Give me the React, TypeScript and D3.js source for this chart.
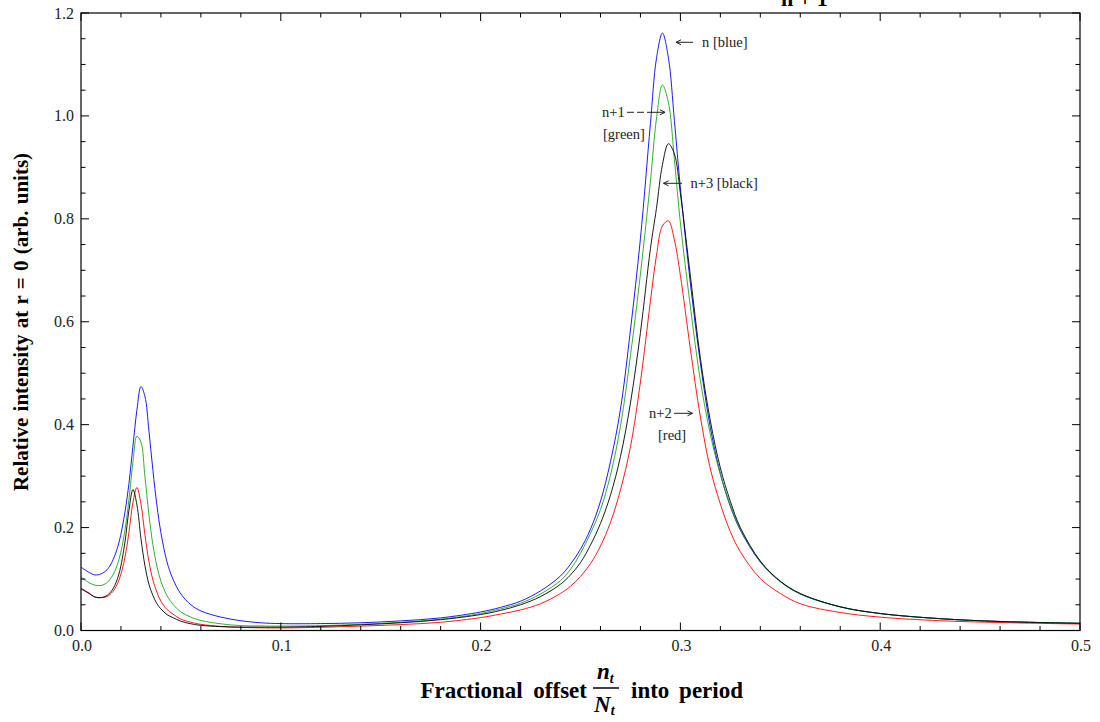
import React from 'react';
import * as d3 from 'd3';

// fractional offset n_t / N_t (shared x grid for all four curves)
const offsets = [
  0, 0.004, 0.007, 0.010, 0.013, 0.016, 0.019, 0.022, 0.024, 0.026, 0.028, 0.030,
  0.032, 0.034, 0.036, 0.038, 0.040, 0.043, 0.046, 0.050, 0.055, 0.060, 0.070, 0.080,
  0.090, 0.10, 0.12, 0.14, 0.16, 0.18, 0.20, 0.21, 0.22, 0.23, 0.24, 0.245, 0.25, 0.255,
  0.26, 0.265, 0.27, 0.275, 0.28, 0.285, 0.288, 0.291, 0.294, 0.297, 0.30, 0.305,
  0.31, 0.315, 0.32, 0.325, 0.33, 0.34, 0.35, 0.36, 0.38, 0.40, 0.43, 0.46, 0.50,
];

// n [blue]
const blueN = [
  0.123, 0.113, 0.108, 0.110, 0.118, 0.137, 0.171, 0.230, 0.286, 0.358, 0.429, 0.474,
  0.455, 0.388, 0.311, 0.243, 0.190, 0.134, 0.100, 0.071, 0.050, 0.038, 0.026, 0.019,
  0.015, 0.0134, 0.0134, 0.015, 0.0187, 0.0245, 0.036, 0.045, 0.057, 0.077, 0.106, 0.129, 0.158, 0.197,
  0.251, 0.328, 0.43, 0.584, 0.762, 0.985, 1.111, 1.161, 1.113, 0.991, 0.86, 0.675,
  0.52, 0.394, 0.305, 0.241, 0.195, 0.133, 0.095, 0.071, 0.046, 0.033, 0.023, 0.0175, 0.014,
];

// n+1 [green]
const greenN1 = [
  0.104, 0.093, 0.088, 0.0875, 0.093, 0.108, 0.138, 0.195, 0.255, 0.327, 0.3775, 0.366,
  0.299, 0.225, 0.166, 0.125, 0.096, 0.068, 0.051, 0.036, 0.026, 0.0195, 0.013, 0.0095,
  0.0088, 0.0085, 0.0095, 0.012, 0.016, 0.022, 0.033, 0.042, 0.053, 0.071, 0.097, 0.119, 0.150, 0.189,
  0.235, 0.302, 0.397, 0.534, 0.693, 0.873, 0.994, 1.06, 1.026, 0.915, 0.792, 0.629,
  0.486, 0.381, 0.303, 0.244, 0.197, 0.134, 0.095, 0.071, 0.046, 0.033, 0.023, 0.0175, 0.014,
];

// n+2 [red]
const redN2 = [
  0.082, 0.073, 0.065, 0.064, 0.066, 0.076, 0.098, 0.142, 0.191, 0.249, 0.278, 0.246,
  0.186, 0.134, 0.098, 0.074, 0.057, 0.041, 0.032, 0.022, 0.016, 0.012, 0.008, 0.006,
  0.0052, 0.005, 0.0062, 0.0085, 0.0115, 0.016, 0.025, 0.032, 0.040, 0.052, 0.072, 0.086, 0.105, 0.130,
  0.164, 0.210, 0.273, 0.357, 0.483, 0.64, 0.728, 0.786, 0.796, 0.759, 0.69, 0.547,
  0.415, 0.314, 0.246, 0.192, 0.153, 0.101, 0.072, 0.052, 0.035, 0.026, 0.019, 0.0155, 0.0125,
];

// n+3 [black]
const blackN3 = [
  0.081, 0.072, 0.065, 0.064, 0.068, 0.081, 0.110, 0.172, 0.234, 0.274, 0.244, 0.179,
  0.126, 0.090, 0.068, 0.052, 0.042, 0.031, 0.025, 0.018, 0.013, 0.010, 0.0075, 0.0065,
  0.0065, 0.0065, 0.008, 0.011, 0.015, 0.021, 0.031, 0.039, 0.050, 0.066, 0.090, 0.108, 0.132, 0.166,
  0.208, 0.263, 0.338, 0.442, 0.579, 0.742, 0.82, 0.905, 0.946, 0.926, 0.849, 0.689,
  0.529, 0.407, 0.316, 0.251, 0.200, 0.135, 0.096, 0.072, 0.046, 0.033, 0.023, 0.0175, 0.014,
];

const xTickValues = [0, 0.1, 0.2, 0.3, 0.4, 0.5];
const yTickValues = [0, 0.2, 0.4, 0.6, 0.8, 1.0, 1.2];

const series = [
  { name: 'n', color: '#0000ff', values: blueN },
  { name: 'n+1', color: '#1aa81a', values: greenN1 },
  { name: 'n+2', color: '#ff0000', values: redN2 },
  { name: 'n+3', color: '#000000', values: blackN3 },
];

const W = 1100;
const H = 722;
const L = 81, R = 1080, T = 13, B = 630.5;
const serif = '"Liberation Serif", "Times New Roman", serif';

export default function App() {
  const x = d3.scaleLinear().domain([0, 0.5]).range([L, R]);
  const y = d3.scaleLinear().domain([0, 1.2]).range([B, T]);

  const line = d3
    .line<number>()
    .x((d, i) => x(offsets[i]))
    .y((d) => y(d))
    .curve(d3.curveCatmullRom.alpha(0.5));

  const xMinor = d3.range(0, 0.5001, 0.02).filter((v) => Math.abs(v * 10 - Math.round(v * 10)) > 1e-6);
  const yMinor = d3.range(0, 1.2001, 0.05).filter((v) => Math.abs(v * 5 - Math.round(v * 5)) > 1e-6);

  const arrowHead = (x0: number, y0: number, dir: number) =>
    `M${x0 - dir * 5},${y0 - 2.5} L${x0},${y0} L${x0 - dir * 5},${y0 + 2.5}`;

  return (
    <svg
      width={W}
      height={H}
      style={{ position: 'absolute', left: 0, top: 0, background: '#fff', fontFamily: serif }}
    >
      <defs>
        <clipPath id="plotClip">
          <rect x={L} y={T} width={R - L} height={B - T} />
        </clipPath>
      </defs>

      {/* title denominator, clipped by the top edge as in the original */}
      <text x={781} y={6} fontSize={22} fontWeight="bold">n + 1</text>

      {/* curves */}
      <g clipPath="url(#plotClip)" fill="none" strokeWidth={0.9}>
        {series.map((s) => (
          <path key={s.name} d={line(s.values) || ''} stroke={s.color} />
        ))}
      </g>

      {/* frame */}
      <rect x={L} y={T} width={R - L} height={B - T} fill="none" stroke="#000" strokeWidth={1.2} />

      {/* ticks */}
      <g stroke="#000" strokeWidth={1}>
        {xTickValues.map((v) => (
          <g key={'xt' + v}>
            <line x1={x(v)} x2={x(v)} y1={B} y2={B - 8} />
            <line x1={x(v)} x2={x(v)} y1={T} y2={T + 8} />
          </g>
        ))}
        {xMinor.map((v) => (
          <g key={'xm' + v}>
            <line x1={x(v)} x2={x(v)} y1={B} y2={B - 4.5} />
            <line x1={x(v)} x2={x(v)} y1={T} y2={T + 4.5} />
          </g>
        ))}
        {yTickValues.map((v) => (
          <g key={'yt' + v}>
            <line x1={L} x2={L + 8} y1={y(v)} y2={y(v)} />
            <line x1={R} x2={R - 8} y1={y(v)} y2={y(v)} />
          </g>
        ))}
        {yMinor.map((v) => (
          <g key={'ym' + v}>
            <line x1={L} x2={L + 4.5} y1={y(v)} y2={y(v)} />
            <line x1={R} x2={R - 4.5} y1={y(v)} y2={y(v)} />
          </g>
        ))}
      </g>

      {/* tick labels */}
      <g fontSize={16} fill="#222">
        {xTickValues.map((v) => (
          <text key={'xl' + v} x={x(v) + 1} y={B + 20} textAnchor="middle">
            {d3.format('.1f')(v)}
          </text>
        ))}
        {yTickValues.map((v) => (
          <text key={'yl' + v} x={L - 7} y={y(v) + 5.5} textAnchor="end">
            {d3.format('.1f')(v)}
          </text>
        ))}
      </g>

      {/* annotations */}
      <g fontSize={14.5} fill="#222" stroke="none">
        <text x={702} y={47}>n [blue]</text>
        <text x={602} y={117}>n+1</text>
        <text x={603} y={138.5}>[green]</text>
        <text x={690.5} y={188}>n+3 [black]</text>
        <text x={649} y={417.5}>n+2</text>
        <text x={658} y={439.5}>[red]</text>
      </g>
      <g fill="none" stroke="#222" strokeWidth={1}>
        <line x1={693} x2={676} y1={42.3} y2={42.3} />
        <path d={arrowHead(676, 42.3, -1)} />
        <line x1={627} x2={665} y1={112.3} y2={112.3} strokeDasharray="7,3,7,3,30" />
        <path d={arrowHead(665, 112.3, 1)} />
        <line x1={682} x2={663.5} y1={183.3} y2={183.3} />
        <path d={arrowHead(663.5, 183.3, -1)} />
        <line x1={674} x2={692.5} y1={413.3} y2={413.3} />
        <path d={arrowHead(692.5, 413.3, 1)} />
      </g>

      {/* y axis label */}
      <text
        transform={`translate(28, ${322}) rotate(-90)`}
        textAnchor="middle"
        fontSize={21}
        fontWeight="bold"
        wordSpacing={1}
      >
        Relative intensity at r = 0 (arb. units)
      </text>

      {/* x axis label */}
      <g fontSize={23} fontWeight="bold">
        <text x={587} y={698} textAnchor="end" wordSpacing={5}>Fractional offset</text>
        <text x={597} y={679} fontStyle="italic">n<tspan fontSize={14} dy={4}>t</tspan></text>
        <line x1={593} x2={619} y1={688} y2={688} stroke="#000" strokeWidth={1.5} />
        <text x={594} y={712} fontStyle="italic">N<tspan fontSize={14} dy={3}>t</tspan></text>
        <text x={631} y={698} wordSpacing={4}>into period</text>
      </g>
    </svg>
  );
}
